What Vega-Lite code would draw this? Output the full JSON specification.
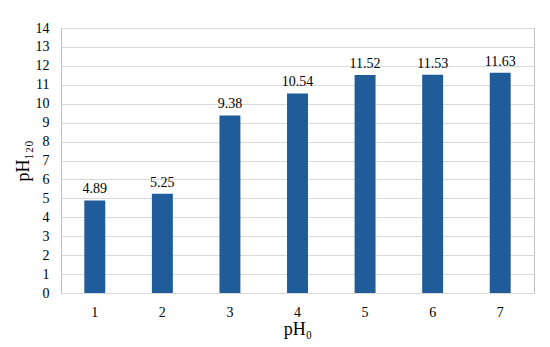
{
  "$schema": "https://vega.github.io/schema/vega-lite/v6.json",
  "width": 473,
  "height": 265,
  "autosize": {"type": "none"},
  "padding": {"left": 61, "top": 28, "right": 16, "bottom": 54},
  "background": "white",
  "data": {"values": [
    {"ph0": "1", "ph120": 4.89},
    {"ph0": "2", "ph120": 5.25},
    {"ph0": "3", "ph120": 9.38},
    {"ph0": "4", "ph120": 10.54},
    {"ph0": "5", "ph120": 11.52},
    {"ph0": "6", "ph120": 11.53},
    {"ph0": "7", "ph120": 11.63}
  ]},
  "encoding": {
    "x": {
      "field": "ph0", "type": "ordinal",
      "scale": {"paddingInner": 0.69, "paddingOuter": 0.345},
      "axis": {"title": "pH₀", "labelAngle": 0, "ticks": false, "domain": false,
               "labelPadding": 12, "titlePadding": 1}
    },
    "y": {
      "field": "ph120", "type": "quantitative",
      "scale": {"domain": [0, 14], "nice": false},
      "axis": {"title": "pH₁₂₀", "values": [0,1,2,3,4,5,6,7,8,9,10,11,12,13,14],
               "ticks": false, "domain": false, "labelPadding": 12, "titlePadding": 3}
    }
  },
  "layer": [
    {"mark": {"type": "bar", "color": "#1f5c99"}},
    {"mark": {"type": "text", "baseline": "bottom", "dy": -4, "fontSize": 14, "color": "#000000", "font": "Liberation Serif, serif"},
     "encoding": {"text": {"field": "ph120", "type": "quantitative", "format": ".2f"}}}
  ],
  "config": {
    "view": {"stroke": "#bfbfbf", "strokeWidth": 1},
    "axis": {
      "labelFont": "Liberation Serif, serif", "labelFontSize": 14, "labelColor": "#000000",
      "titleFont": "Liberation Serif, serif", "titleFontSize": 18, "titleFontWeight": "normal", "titleColor": "#000000",
      "gridColor": "#d9d9d9", "gridWidth": 1
    },
    "axisX": {"grid": false}
  }
}
